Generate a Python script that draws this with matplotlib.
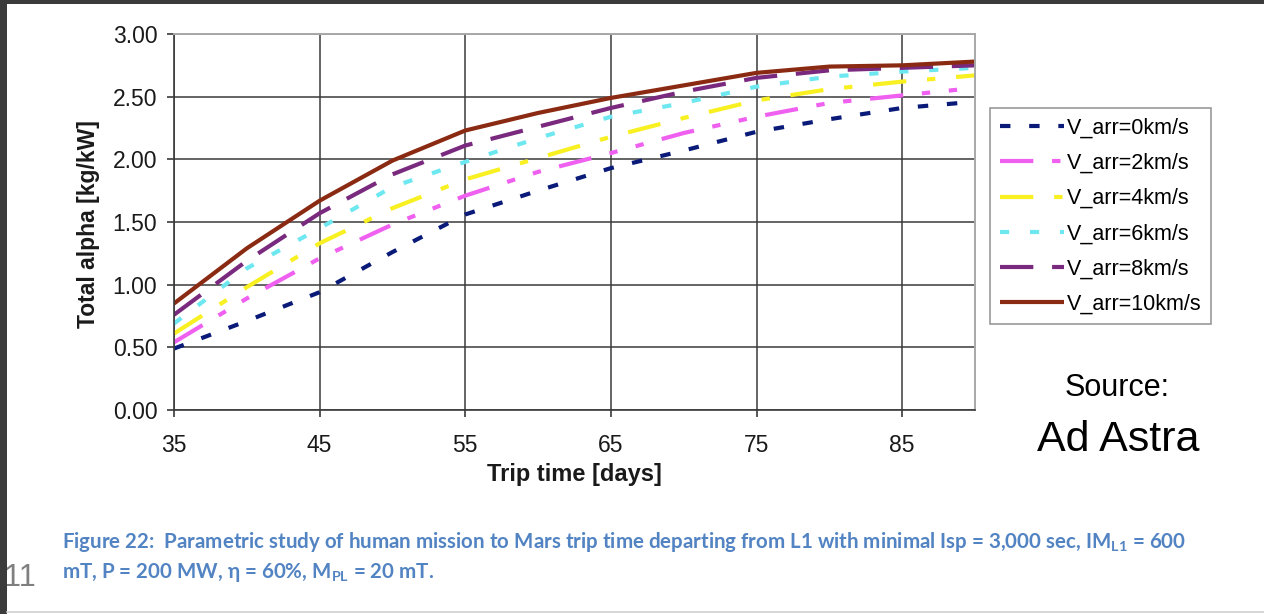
import matplotlib
matplotlib.use("Agg")
import matplotlib.pyplot as plt
from matplotlib.patches import Rectangle
from matplotlib.lines import Line2D

# Trip time [days] and total alpha [kg/kW]
days = [35, 40, 45, 50, 55, 60, 65, 70, 75, 80, 85, 90]
v_arr_0 = [0.49, 0.71, 0.94, 1.26, 1.56, 1.75, 1.93, 2.07, 2.22, 2.32, 2.41, 2.46]
v_arr_2 = [0.54, 0.89, 1.21, 1.48, 1.71, 1.90, 2.05, 2.21, 2.34, 2.45, 2.51, 2.57]
v_arr_4 = [0.61, 0.98, 1.33, 1.61, 1.84, 2.01, 2.18, 2.33, 2.47, 2.56, 2.62, 2.67]
v_arr_6 = [0.69, 1.13, 1.45, 1.78, 1.98, 2.17, 2.34, 2.45, 2.58, 2.66, 2.70, 2.73]
v_arr_8 = [0.76, 1.19, 1.57, 1.88, 2.11, 2.26, 2.41, 2.54, 2.65, 2.71, 2.73, 2.75]
v_arr_10 = [0.85, 1.29, 1.67, 1.99, 2.23, 2.37, 2.49, 2.59, 2.69, 2.74, 2.75, 2.78]

labels = ["V_arr=0km/s", "V_arr=2km/s", "V_arr=4km/s",
          "V_arr=6km/s", "V_arr=8km/s", "V_arr=10km/s"]
xticks = [35, 45, 55, 65, 75, 85]
yticks = [0.0, 0.5, 1.0, 1.5, 2.0, 2.5, 3.0]

W, H = 1264, 614
fig = plt.figure(figsize=(W / 100, H / 100), dpi=100)
fig.patch.set_facecolor("white")

# dark frame of the screenshot
fig.patches.append(Rectangle((0, 1 - 4 / H), 1, 4 / H, transform=fig.transFigure,
                             facecolor="#3b3b3b", edgecolor="none", zorder=0))
fig.patches.append(Rectangle((0, 0), 7 / W, 1, transform=fig.transFigure,
                             facecolor="#3b3b3b", edgecolor="none", zorder=0))
fig.add_artist(Line2D([7 / W, 1], [2.5 / H, 2.5 / H], transform=fig.transFigure,
                      color="#d0d0d0", lw=1.2))

ax = fig.add_axes([174 / W, 204 / H, 801 / W, 376 / H])

lw = 3.0  # points
styles = [
    (v_arr_0, "#0a1a78", (0, (2.5, 4.5))),
    (v_arr_2, "#f060f0", (0, (8, 4.5, 2, 4.5, 2, 4.5))),
    (v_arr_4, "#f8f020", (0, (8, 5, 2, 5))),
    (v_arr_6, "#6ee8f0", (0, (2.2, 5))),
    (v_arr_8, "#7a2a7e", (0, (8, 4.5))),
    (v_arr_10, "#8b2a12", "-"),
]
for (vals, col, ls), lab in zip(styles, labels):
    ax.plot(days, vals, color=col, lw=lw, linestyle=ls, label=lab,
            solid_capstyle="butt", dash_capstyle="butt")

ax.set_xlim(35, 90)
ax.set_ylim(0, 3)
ax.set_xticks(xticks)
ax.set_yticks(yticks)
ax.set_yticklabels([f"{v:.2f}" for v in yticks])
ax.grid(True, color="#3a3a3a", lw=1.1)
ax.set_axisbelow(True)

for side in ["top", "right"]:
    ax.spines[side].set_color("#a8a8a8")
    ax.spines[side].set_linewidth(1.4)
for side in ["left", "bottom"]:
    ax.spines[side].set_color("#3a3a3a")
    ax.spines[side].set_linewidth(1.2)

for t in ax.get_xticklabels() + ax.get_yticklabels():
    t.set_fontfamily("Liberation Sans")
    t.set_fontsize(16.5)
    t.set_color("#1a1a1a")
ax.tick_params(axis="both", direction="out", length=5, width=1.2, color="#3a3a3a")
ax.tick_params(axis="x", pad=12.5)
ax.tick_params(axis="y", pad=7)

ax.set_xlabel("Trip time [days]", family="Liberation Sans", fontsize=17,
              fontweight="bold", color="#1a1a1a", va="center")
ax.xaxis.set_label_coords(0.5, (410 - 475) / 376)
ax.set_ylabel("Total alpha [kg/kW]", family="Liberation Sans", fontsize=16.5,
              fontweight="bold", color="#1a1a1a", va="center")
ax.yaxis.set_label_coords((88 - 174) / 801, (410 - 224) / 376)

leg = ax.legend(loc="upper left", bbox_to_anchor=(990 / W, 1 - 108 / H),
                bbox_transform=fig.transFigure, borderaxespad=0,
                prop=dict(family="Liberation Sans", size=15.5),
                frameon=True, fancybox=False, handlelength=3.0,
                handletextpad=0.1, labelspacing=0.66, borderpad=0.45)
leg.get_frame().set_edgecolor("#808080")
leg.get_frame().set_linewidth(1.2)

fig.text(1117 / W, 1 - 388 / H, "Source:", family="Liberation Sans", fontsize=22,
         ha="center", va="center", color="black")
fig.text(1118 / W, 1 - 440 / H, "Ad Astra", family="Liberation Sans", fontsize=31,
         ha="center", va="center", color="black")

cap_color = "#5283c2"
cap1 = (r"Figure 22:  Parametric study of human mission to Mars trip time departing "
        r"from L1 with minimal Isp = 3,000 sec, IM$_{\mathregular{L1}}$ = 600")
cap2 = r"mT, P = 200 MW, η = 60%, M$_{\mathregular{PL}}$ = 20 mT."
fig.text(62 / W, 1 - 542 / H, cap1, family="Lato", fontweight="bold", fontsize=14.8,
         color=cap_color, ha="left", va="center")
fig.text(62 / W, 1 - 572 / H, cap2, family="Lato", fontweight="bold", fontsize=14.8,
         color=cap_color, ha="left", va="center")

fig.text(36 / W, 1 - 578 / H, "2011", family="Liberation Sans", fontsize=22,
         color="#7f7f7f", ha="right", va="center", zorder=-1)

fig.savefig("out.png", dpi=100, facecolor=fig.get_facecolor())
